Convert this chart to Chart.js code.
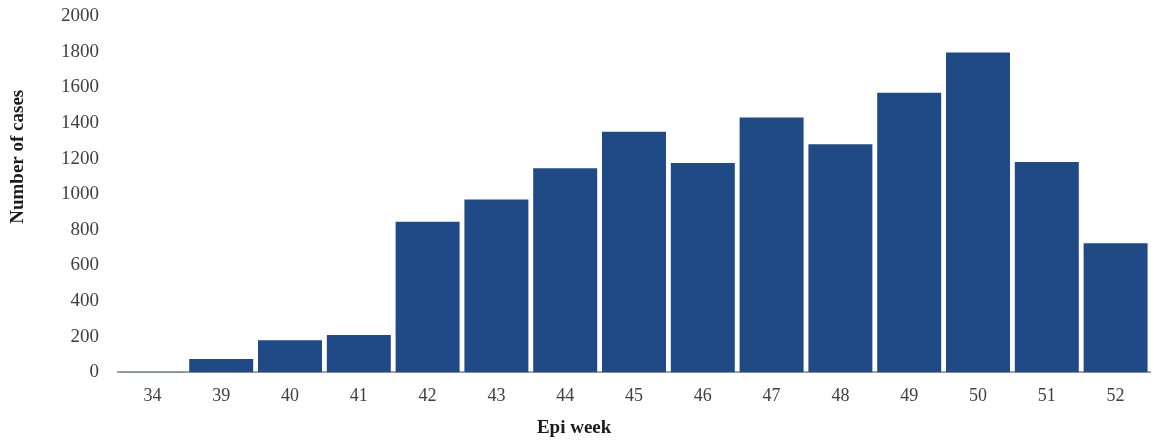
<!DOCTYPE html>
<html>
<head>
<meta charset="utf-8">
<script src="https://cdn.jsdelivr.net/npm/chart.js@4/dist/chart.umd.min.js"></script>
<style>
  html, body { margin: 0; padding: 0; background: #fff; }
  #wrap { width: 1154px; height: 442px; }
</style>
</head>
<body>
<div id="wrap"><canvas id="myChart"></canvas></div>
<script>
// epi weeks and case counts
const weeks = ["34", "39", "40", "41", "42", "43", "44", "45", "46", "47", "48", "49", "50", "51", "52"];
const cases = [2, 75, 180, 210, 845, 970, 1145, 1350, 1175, 1430, 1280, 1570, 1795, 1180, 725];
const yTicks = [0, 200, 400, 600, 800, 1000, 1200, 1400, 1600, 1800, 2000];

const barColor = "#1f4a86";
const textColor = "#404040";
const serif = "'Liberation Serif', 'Times New Roman', serif";

// axis titles sit off-centre in the original figure, so draw them by hand
const axisTitles = {
    id: "axisTitles",
    afterDraw(chart) {
        const ctx = chart.ctx;
        const area = chart.chartArea;
        ctx.save();
        ctx.fillStyle = "#1a1a1a";
        ctx.font = "bold 19px " + serif;
        ctx.textAlign = "center";
        ctx.textBaseline = "middle";
        ctx.fillText("Epi week", area.left + 0.442 * (area.right - area.left), chart.height - 14);
        ctx.translate(18, area.top + 0.395 * (area.bottom - area.top));
        ctx.rotate(-Math.PI / 2);
        ctx.fillText("Number of cases", 0, 0);
        ctx.restore();
    },
};

new Chart("myChart", {
    type: "bar",
    data: {
        labels: weeks,
        datasets: [
            {
                backgroundColor: barColor,
                data: cases,
                barPercentage: 0.93,
                categoryPercentage: 1.0,
            },
        ],
    },
    plugins: [axisTitles],
    options: {
        responsive: true,
        maintainAspectRatio: false,
        animation: false,
        layout: { padding: { top: 16, right: 4, bottom: 22, left: 0 } },
        plugins: {
            legend: { display: false },
            tooltip: { enabled: false },
        },
        scales: {
            x: {
                grid: { display: false, drawTicks: false },
                border: { display: true, color: "#a0a0a0", width: 2 },
                ticks: { color: textColor, font: { family: serif, size: 18 }, padding: 13 },
            },
            y: {
                min: 0,
                max: 2000,
                afterBuildTicks: (scale) => {
                    scale.ticks = yTicks.map((v) => ({ value: v }));
                },
                afterFit: (scale) => {
                    scale.width = 118;
                    scale.paddingTop = 0;
                    scale.paddingBottom = 0;
                },
                grid: { display: false, drawTicks: false },
                border: { display: false },
                ticks: {
                    color: textColor,
                    font: { family: serif, size: 19 },
                    padding: 19,
                    callback: (v) => String(v),
                },
            },
        },
    },
});
</script>
</body>
</html>
